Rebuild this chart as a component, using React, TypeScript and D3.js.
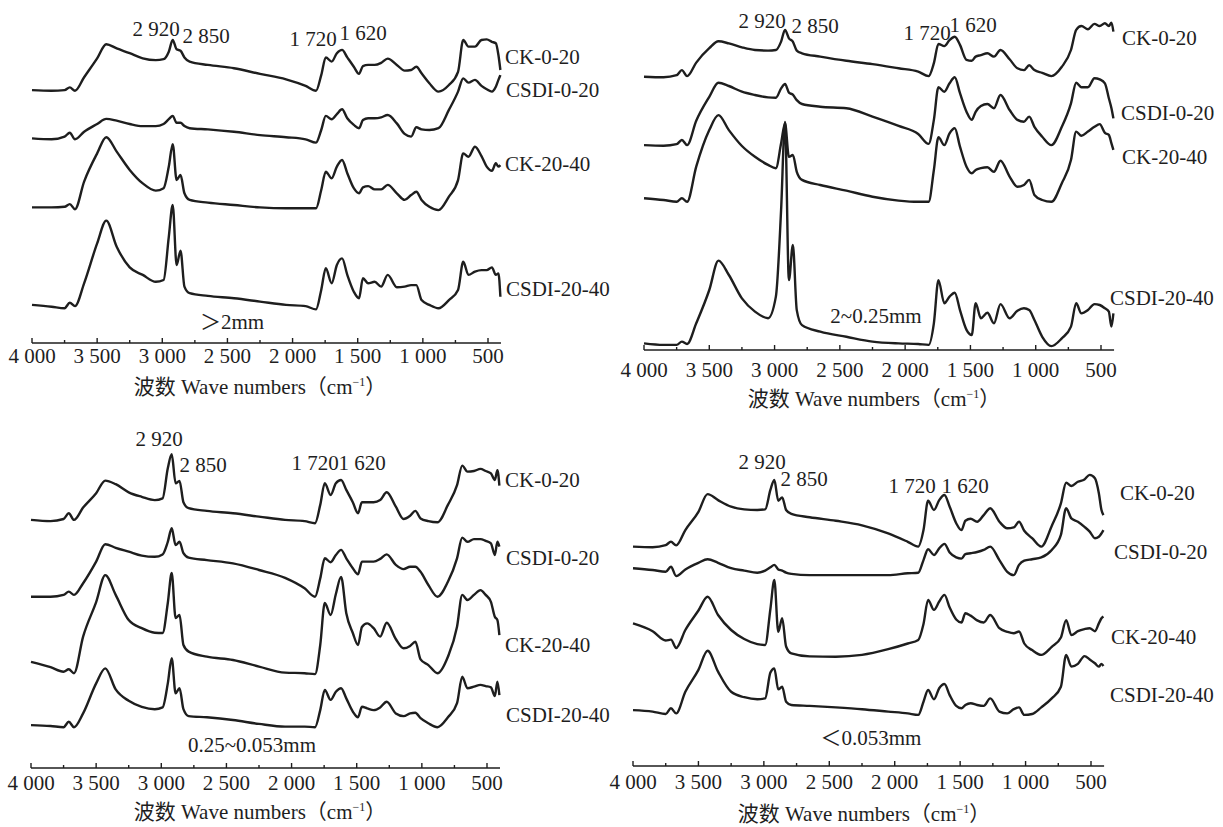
import React from "react";
import * as d3 from "d3";

// shared wavenumber grid (cm-1)
const wavenumbers = [
  4000, 3850, 3750, 3710, 3670, 3600, 3500, 3430, 3350, 3250, 3150, 3050, 2990, 2950, 2920, 2890,
  2860, 2830, 2790, 2650, 2450, 2250, 2050, 1900, 1820, 1780, 1745, 1700, 1660, 1620, 1580, 1530,
  1490, 1460, 1420, 1370, 1320, 1270, 1200, 1140, 1090, 1050, 1010, 950, 880, 800, 730, 690, 650,
  600, 550, 510, 470, 440, 420, 405,
];

const seriesNames = ["CK-0-20", "CSDI-0-20", "CK-20-40", "CSDI-20-40"];
const sizeClasses = ["＞2mm", "2~0.25mm", "0.25~0.053mm", "＜0.053mm"];
const peakLabels = ["2 920", "2 850", "1 720", "1 620"];
const majorTicks = [4000, 3500, 3000, 2500, 2000, 1500, 1000, 500];
const minorTicks = [3750, 3250, 2750, 2250, 1750, 1250, 750];

// >2mm (relative transmittance, offset stacked)
const gt2_ck020 = [84.3, 84.1, 84.3, 85.2, 84.1, 88.6, 94.9, 99.6, 98.2, 96.6, 94.9, 94.3, 94.6, 97.1, 101, 97.9, 97.4, 95.2, 93.8, 92.7, 91.6, 89.7, 87.9, 85.7, 84.1, 89.3, 95.2, 93.8, 96.6, 97.7, 95.2, 92.1, 89.7, 92.3, 92.7, 92.7, 93.4, 94.8, 92.7, 90.8, 91, 92.1, 89.9, 86.6, 83.8, 86, 90.4, 101, 98.8, 98.8, 101, 101.2, 100.4, 99.9, 96, 91];
const gt2_csdi020 = [68.2, 67.9, 68.8, 70.1, 67.9, 70.4, 73, 74.7, 74.1, 73, 72.3, 72.3, 73, 74.6, 75.7, 73.4, 73.4, 72.3, 71.6, 71.2, 70.4, 69.3, 68.6, 67.9, 66.8, 71, 75.7, 74.6, 76.3, 77.9, 74.9, 72.7, 71.6, 74.3, 74.9, 74.9, 75.2, 76, 73.2, 69.7, 68.8, 71.9, 71.2, 71, 71.6, 77.7, 83.8, 88.2, 86.8, 87.7, 85.7, 84.6, 83.8, 85.4, 87.7, 89.3];
const gt2_ck2040 = [45.2, 45.2, 45.4, 46.3, 44.6, 53.8, 63.2, 68.6, 63.8, 57.7, 53.2, 50.8, 51.6, 58.8, 66.3, 54.3, 56, 49.9, 47.7, 46.8, 46, 45.2, 44.9, 44.9, 44.9, 51, 57.1, 54.9, 58.8, 61, 56.6, 51.6, 49.9, 51.9, 52.3, 51.2, 51.2, 52.7, 49.9, 47.7, 49.3, 50.4, 47.7, 45.4, 44.3, 48.8, 54.3, 63.2, 62.1, 65.4, 62.3, 58.8, 57.4, 59.9, 58.8, 59.3];
const gt2_csdi2040 = [12.7, 12.1, 11.6, 13.4, 12.3, 19.9, 33.2, 40.8, 32.1, 25.2, 22.7, 20.4, 21, 35.4, 46, 26, 30.8, 18.8, 16.6, 15.7, 14.9, 13.8, 12.7, 12.3, 11.2, 17.7, 24.9, 19.9, 26, 28.2, 22.7, 17.1, 14.9, 21.6, 19.9, 20.4, 18.8, 22.7, 18.6, 18.8, 19.3, 19.3, 14.3, 12.7, 11.6, 14.3, 17.7, 27.1, 22.7, 23.8, 24.3, 24.3, 25.2, 22.7, 23.2, 15.4];

// 2~0.25mm
const mid_ck020 = [91.1, 90.9, 91.6, 93.3, 91.3, 95.8, 100.6, 102.9, 102.2, 100.9, 100, 99.8, 100, 102.8, 106.7, 103.9, 102.8, 99.8, 98.9, 97.8, 96.4, 95.3, 93.9, 92.8, 91.3, 95.6, 102, 101.3, 103.3, 104.4, 101.7, 96.7, 96.4, 97.8, 98.3, 98.9, 97.8, 100, 96.9, 93.9, 93.3, 94.9, 93.3, 92.4, 91.3, 94.4, 100, 106.7, 108, 106.9, 108.7, 108, 108.9, 108, 109.1, 106.1];
const mid_csdi020 = [68.3, 68.1, 68.6, 70, 68.3, 76.4, 84.4, 89.1, 88, 86.1, 85, 84.2, 84.1, 87.2, 88.7, 85.8, 85.1, 83.3, 82, 81.1, 80.6, 77.8, 74.7, 72, 68.7, 76.7, 87.6, 86.1, 88.9, 90.9, 85.6, 79.4, 76.7, 79.4, 81.3, 82, 80.6, 85, 80, 76.7, 76.1, 77.8, 74.4, 71.1, 68.3, 74.4, 82.2, 89.1, 87.6, 87.6, 90.6, 90.2, 88.9, 83.9, 80.6, 77.2];
const mid_ck2040 = [50.6, 50, 49.4, 50.6, 49.4, 61.1, 73.3, 78.3, 73.3, 68, 64.4, 61.7, 60.6, 68.9, 75.6, 64.4, 65, 59.4, 56.7, 55, 53.1, 51.1, 49.8, 49.4, 49.4, 60, 70.9, 68.3, 72.2, 73.9, 67.8, 61.1, 58.9, 60, 60.6, 60.9, 59.4, 63.1, 57.8, 54.4, 55, 56.7, 51.7, 50, 49.4, 55.6, 63.3, 72.8, 71.4, 72.8, 74.4, 75.3, 72.4, 71.7, 68.9, 66.7];
const mid_csdi2040 = [2.2, 1.7, 1.7, 2.8, 2, 8.9, 20, 29.8, 25, 17.2, 12.8, 10.6, 17.8, 46.7, 76, 23.3, 35, 13.3, 8.3, 6.1, 4.4, 2.8, 2.2, 2, 1.7, 8.9, 23.3, 15.6, 17.8, 19.1, 13.3, 6.7, 5, 15.6, 10.6, 12.4, 8.9, 15.3, 10.6, 13.1, 13.9, 13.3, 10, 4.4, 1.3, 3.9, 7.8, 15.6, 12.2, 13.3, 15.3, 15, 13.9, 12.8, 7.8, 12.2];

// 0.25~0.053mm
const fine_ck020 = [81.7, 81.3, 82, 83.9, 81.7, 85.8, 90.6, 94.8, 93.6, 90.9, 89.4, 88.3, 88.9, 98.9, 103.6, 93.9, 94.7, 87.6, 85.6, 84.7, 83.9, 82.8, 81.7, 81.3, 80.6, 86.7, 93.9, 90, 93.9, 95, 91.7, 87.6, 83.9, 87.6, 87.6, 87.6, 88.3, 90.9, 86.1, 82, 83.1, 84.7, 82.2, 81.3, 80.9, 86.7, 93.3, 99.8, 97.8, 98, 98.7, 98, 97.2, 95, 98.3, 93.1];
const fine_csdi020 = [56.1, 56.1, 56.7, 57.8, 56.7, 60.6, 67.8, 73.6, 72.4, 71.1, 69.8, 69.4, 70.2, 74.4, 78.9, 73.3, 74.4, 70.6, 69.1, 68.3, 67.2, 65, 62.4, 58.9, 56.1, 62.2, 68.9, 67.6, 70, 71.7, 68.9, 65.6, 63.6, 67.8, 67.8, 67.8, 68.7, 70.2, 66.7, 65.3, 66.1, 66.1, 64.4, 60, 56.1, 61.1, 68.9, 75.8, 74.4, 75.3, 75.3, 74.7, 73.9, 70, 74.4, 72.8];
const fine_ck2040 = [34.4, 32.6, 31.1, 31.9, 30.6, 42.8, 54.3, 63.3, 56.7, 48.3, 45.6, 44.1, 44, 54, 64, 49, 50, 40, 37.8, 36.1, 35, 32.8, 30.8, 30.6, 30.3, 40, 54, 50, 57, 62.7, 50.6, 44, 40, 46, 47.2, 45.6, 42.8, 47.4, 42, 38.9, 39.7, 41.1, 35.2, 33.3, 30.6, 36.1, 46.1, 56.7, 55, 56.7, 58.3, 56.7, 54.4, 49.4, 48.3, 43.3];
const fine_csdi2040 = [13.3, 13, 12.6, 14.4, 12.6, 17.2, 27.2, 32.2, 25.2, 21.4, 19.4, 18.6, 19.2, 27.2, 35.6, 23.9, 25.6, 18.6, 16.3, 15.9, 15, 13.7, 12.8, 12.8, 12.6, 18.3, 25, 21.7, 24.4, 25.6, 22.2, 17.8, 15.9, 19.4, 18.9, 18.3, 19.2, 21.1, 17.2, 16.3, 17.2, 17.4, 15.6, 13.9, 12.6, 15.9, 20.6, 29.4, 25.6, 26.1, 26.7, 26.3, 25.9, 23, 27.8, 23.3];

// <0.053mm
const clay_ck020 = [72.8, 72.6, 73.3, 74.4, 73.2, 78.3, 84.4, 90.3, 88.3, 86.1, 85.2, 85, 85.2, 91.7, 95, 88.1, 89.2, 85, 83.7, 82.6, 81.4, 79.9, 77.2, 74.4, 72.8, 78.3, 88.1, 85, 88.3, 90, 86.1, 80.6, 78.3, 81.4, 82.1, 81.1, 83.3, 85.6, 81.1, 78.9, 79.2, 81.1, 78.1, 75.6, 72.8, 79.7, 87.2, 94.1, 93, 94.4, 95.2, 96.7, 95.6, 90.6, 85, 83.3];
const clay_csdi020 = [65.6, 65, 64.4, 66.1, 63, 65.2, 67.4, 68.6, 67.4, 65.6, 64.8, 64.1, 64.8, 65.9, 66.7, 65.2, 64.8, 64.1, 63.7, 63.3, 63.3, 63.3, 63.3, 63.9, 64.1, 68.3, 71.9, 70, 72.2, 73.7, 70.8, 69.2, 68.8, 70.3, 70.6, 71, 71.7, 72.8, 68.3, 64.4, 63.3, 66.7, 68.1, 68.6, 69.2, 71.7, 76.7, 85.6, 82.2, 81.1, 79.4, 77.8, 75.6, 76.1, 77.2, 78.3];
const clay_ck2040 = [47.2, 44.6, 41.5, 41.8, 39, 45, 51.5, 56.1, 50, 45, 42, 40.3, 40, 52, 61.7, 44.4, 48.9, 39.5, 37.2, 36.2, 36.1, 36.7, 38.6, 40.5, 41.7, 47, 55, 51.7, 54.5, 56.7, 52.5, 48.5, 47.5, 50.6, 49.8, 48.2, 47.5, 50, 45.6, 44.4, 43.9, 44.5, 40.5, 38.3, 36.7, 39.4, 42.5, 48.3, 43.3, 44.6, 45.3, 45.6, 44.6, 47.2, 48.9, 49.5];
const clay_csdi2040 = [18.3, 17.8, 17, 18.9, 17.2, 24.4, 31.7, 38.1, 31.1, 24.4, 22.6, 21.9, 22.2, 30.8, 32.2, 25.2, 26.1, 21.1, 20, 19.7, 19.2, 18.6, 17.8, 17.2, 16.7, 21.1, 25, 21.9, 25.6, 27, 23.3, 19.7, 18.9, 20, 20.6, 20, 19.7, 22.2, 17.8, 17.2, 18.6, 19.2, 16.7, 17, 19.2, 22.2, 26.1, 36.7, 32.8, 33.7, 36.3, 35.2, 33.9, 32.8, 33.7, 33];

const FONT = "'Liberation Serif', 'Times New Roman', 'Noto Sans CJK SC', serif";
const INK = "#1e1e1e";

// layout of the four panels
const panels = [
  {
    series: [gt2_ck020, gt2_csdi020, gt2_ck2040, gt2_csdi2040],
    x4000: 32, x500: 488, baseY: 343, axisY: 343, tickY: 363, titleX: 260, titleY: 394,
    names: [[505, 57], [506, 90], [505, 164], [506, 289]],
    peaks: [[156, 36], [206, 43], [313, 46], [363, 40]],
    size: [232, 322],
  },
  {
    series: [mid_ck020, mid_csdi020, mid_ck2040, mid_csdi2040],
    x4000: 644, x500: 1101, baseY: 350, axisY: 350, tickY: 377, titleX: 874, titleY: 406,
    names: [[1122, 38], [1121, 113], [1122, 157], [1110, 298]],
    peaks: [[762, 28], [815, 33], [927, 40], [973, 32]],
    size: [876, 316],
  },
  {
    series: [fine_ck020, fine_csdi020, fine_ck2040, fine_csdi2040],
    x4000: 31, x500: 487, baseY: 765, axisY: 768, tickY: 790, titleX: 260, titleY: 819,
    names: [[505, 480], [506, 558], [505, 645], [506, 715]],
    peaks: [[159, 446], [203, 472], [315, 470], [362, 470]],
    size: [252, 745],
  },
  {
    series: [clay_ck020, clay_csdi020, clay_ck2040, clay_csdi2040],
    x4000: 633, x500: 1091, baseY: 765, axisY: 766, tickY: 789, titleX: 864, titleY: 821,
    names: [[1120, 493], [1114, 552], [1111, 637], [1110, 695]],
    peaks: [[762, 469], [804, 486], [912, 493], [965, 493]],
    size: [871, 738],
  },
];

const fmtTick = (v: number) => d3.format(",")(v).replace(",", " ");

function Panel({ cfg, idx }: { cfg: any; idx: number }) {
  const x = d3.scaleLinear().domain([4000, 500]).range([cfg.x4000, cfg.x500]);
  const y = d3.scaleLinear().domain([0, 100]).range([cfg.baseY, cfg.baseY - 300]);
  const line = d3
    .line<number>()
    .x((_, i) => x(wavenumbers[i]))
    .y((d) => y(d))
    .curve(d3.curveMonotoneX);

  return (
    <g>
      {cfg.series.map((s: number[], i: number) => (
        <path key={i} d={line(s) || ""} fill="none" stroke={INK} strokeWidth={2.4} strokeLinejoin="round" />
      ))}

      {/* axis */}
      <line x1={x(4000)} x2={x(400)} y1={cfg.axisY} y2={cfg.axisY} stroke={INK} strokeWidth={1.6} />
      {majorTicks.map((t) => (
        <line key={t} x1={x(t)} x2={x(t)} y1={cfg.axisY} y2={cfg.axisY - 5} stroke={INK} strokeWidth={1.4} />
      ))}
      {minorTicks.map((t) => (
        <line key={t} x1={x(t)} x2={x(t)} y1={cfg.axisY} y2={cfg.axisY - 3} stroke={INK} strokeWidth={1.4} />
      ))}
      {majorTicks.map((t) => (
        <text key={"l" + t} x={x(t)} y={cfg.tickY} textAnchor="middle" fontSize={21} fill={INK}>
          {fmtTick(t)}
        </text>
      ))}
      <text x={cfg.titleX} y={cfg.titleY} textAnchor="middle" fontSize={21} fill={INK}>
        波数 Wave numbers（cm
        <tspan dy={-8} fontSize={12}>−1</tspan>
        <tspan dy={8}>）</tspan>
      </text>

      {/* annotations */}
      {seriesNames.map((n, i) => (
        <text key={n} x={cfg.names[i][0]} y={cfg.names[i][1]} dy="0.35em" fontSize={21} fill={INK}>
          {n}
        </text>
      ))}
      {peakLabels.map((p, i) => (
        <text key={p} x={cfg.peaks[i][0]} y={cfg.peaks[i][1]} textAnchor="middle" fontSize={21} fill={INK}>
          {p}
        </text>
      ))}
      <text x={cfg.size[0]} y={cfg.size[1]} dy="0.35em" textAnchor="middle" fontSize={21} fill={INK}>
        {sizeClasses[idx]}
      </text>
    </g>
  );
}

const App = () => {
  return (
    <svg
      width={1223}
      height={827}
      style={{ position: "absolute", left: 0, top: 0, background: "#fff" }}
      fontFamily={FONT}
    >
      {panels.map((p, i) => (
        <Panel key={i} cfg={p} idx={i} />
      ))}
    </svg>
  );
};

export default App;
